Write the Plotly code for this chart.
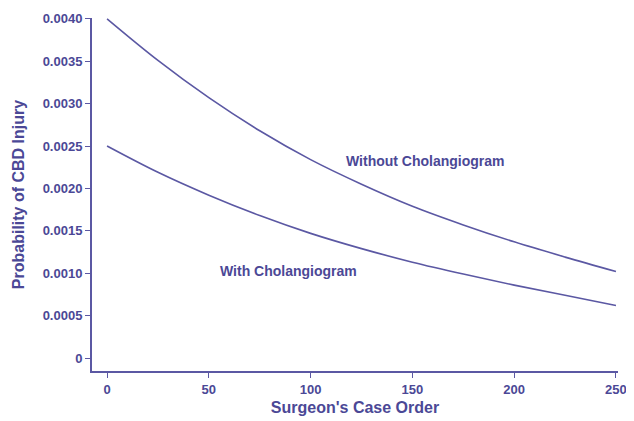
import plotly.graph_objects as go

case_order = [0, 25, 50, 75, 100, 125, 150, 175, 200, 225, 250]
without_chol = [0.00400, 0.00351, 0.00307, 0.00268, 0.00234, 0.00205, 0.00179, 0.00157, 0.00137, 0.00119, 0.00102]
with_chol = [0.00250, 0.00219, 0.00192, 0.00168, 0.00147, 0.00129, 0.00113, 0.00099, 0.00086, 0.00074, 0.00062]

y_tickvals = [0, 0.0005, 0.0010, 0.0015, 0.0020, 0.0025, 0.0030, 0.0035, 0.0040]
y_ticktext = ["0", "0.0005", "0.0010", "0.0015", "0.0020", "0.0025", "0.0030", "0.0035", "0.0040"]
x_tickvals = [0, 50, 100, 150, 200, 250]

COL = "#5b58a3"
TXT = "#4b4896"
FONT = "Liberation Sans, Arial, sans-serif"

fig = go.Figure()
fig.add_trace(go.Scatter(x=case_order, y=without_chol, mode="lines",
                         line=dict(color=COL, width=1.6, shape="spline", smoothing=1.0),
                         name="Without Cholangiogram", showlegend=False))
fig.add_trace(go.Scatter(x=case_order, y=with_chol, mode="lines",
                         line=dict(color=COL, width=1.6, shape="spline", smoothing=1.0),
                         name="With Cholangiogram", showlegend=False))

fig.add_annotation(x=156.5, y=0.00232, text="Without Cholangiogram", showarrow=False,
                   font=dict(family=FONT, size=14, color=TXT, weight="bold"))
fig.add_annotation(x=89, y=0.00103, text="With Cholangiogram", showarrow=False,
                   font=dict(family=FONT, size=14, color=TXT, weight="bold"))

# page body has an 8px margin, so the figure is 8px smaller and its margins shifted
fig.update_layout(
    width=626, height=413,
    margin=dict(l=84, r=16, t=10, b=50),
    paper_bgcolor="white", plot_bgcolor="white",
    font=dict(family=FONT, color=TXT, size=13, weight="bold"),
)
fig.update_xaxes(range=[-7.4, 251], tickvals=x_tickvals, showline=True, linecolor=COL,
                 linewidth=2, ticks="outside", ticklen=5, tickcolor=COL, showgrid=False,
                 zeroline=False, automargin=False,
                 title=dict(text="Surgeon's Case Order", standoff=6, font=dict(size=16)))
fig.update_yaxes(range=[-0.000153, 0.00401], tickvals=y_tickvals, ticktext=y_ticktext,
                 showline=True, linecolor=COL, linewidth=2, ticks="outside", ticklen=5,
                 tickcolor=COL, showgrid=False, zeroline=False, automargin=False,
                 title=dict(text="Probability of CBD Injury", standoff=14, font=dict(size=16)))

fig.write_html("out.html")
